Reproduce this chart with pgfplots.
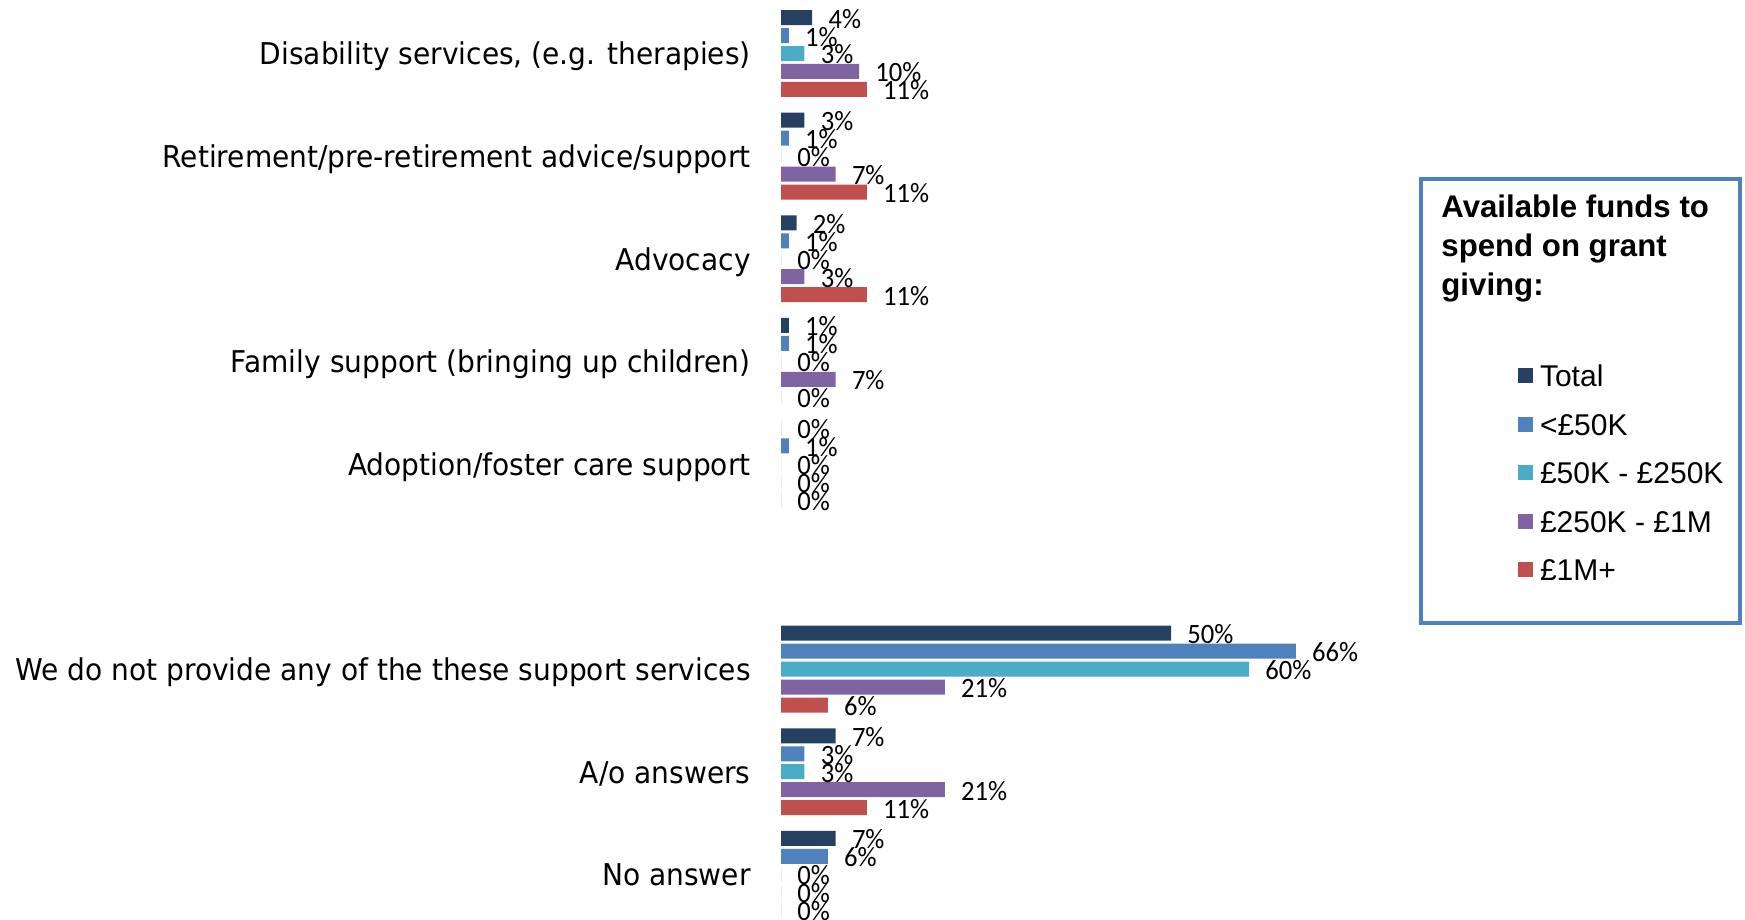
\documentclass[border=0pt]{standalone}
\usepackage{fontspec}
\usepackage{pgfplots}
\pgfplotsset{compat=1.18}
\usepackage{pgfplotstable}
\setmainfont{Liberation Sans}
\newfontfamily\catfont[FakeStretch=0.935]{DejaVu Sans}
\newfontfamily\lblfont[FakeStretch=0.95]{Carlito}

\definecolor{cTotal}{HTML}{264061}
\definecolor{cSmall}{HTML}{4F81BD}
\definecolor{cMid}{HTML}{4BACC6}
\definecolor{cLarge}{HTML}{8064A2}
\definecolor{cTop}{HTML}{C0504D}
\definecolor{boxblue}{HTML}{4F81BD}

% category index (0 = top), percent
\pgfplotstableread{
cat val
0 4
1 3
2 2
3 1
4 0
6 50
7 7
8 7
}\tabTotal
\pgfplotstableread{
cat val
0 1
1 1
2 1
3 1
4 1
6 66
7 3
8 6
}\tabSmall
\pgfplotstableread{
cat val
0 3
1 0
2 0
3 0
4 0
6 60
7 3
8 0
}\tabMid
\pgfplotstableread{
cat val
0 10
1 7
2 3
3 7
4 0
6 21
7 21
8 0
}\tabLarge
\pgfplotstableread{
cat val
0 11
1 11
2 11
3 0
4 0
6 6
7 11
8 0
}\tabTop

\begin{document}
\begin{tikzpicture}
\useasboundingbox (0,0) rectangle (872.5pt,460pt);

\begin{axis}[%
at={(390.5pt,-2.8pt)},
anchor=south west,
width=312pt,
height=461.7pt,
scale only axis,
xbar,
bar width=7.5pt,
bar shift=0pt,
xmin=0, xmax=80,
ymin=-0.5, ymax=8.5,
y dir=reverse,
clip=false,
axis line style={draw=none},
major tick length=0pt,
xtick=\empty,
ytick={0,1,2,3,4,5,6,7,8},
yticklabels={{Disability services, (e.g. therapies)},
  {Retirement/pre-retirement advice/support},
  {Advocacy},
  {Family support (bringing up children)},
  {Adoption/foster care support},
  {},
  {We do not provide any of the these support services},
  {A/o answers},
  {No answer}},
yticklabel style={font=\catfont\fontsize{15pt}{18pt}\selectfont, inner sep=0pt,
  text height=14.4pt, text depth=3pt, xshift=-15pt},
point meta=x,
/pgf/number format/assume math mode=true,
nodes near coords={\pgfmathprintnumber[fixed,precision=0]{\pgfplotspointmeta}\%},
every node near coord/.append style={font=\lblfont\fontsize{14pt}{16pt}\selectfont,
  anchor=west, inner sep=0pt, xshift=8pt, yshift=-0.5pt, text=black},
legend cell align=left,
legend image code/.code={\fill[#1] (0pt,-3.75pt) rectangle (7.5pt,3.75pt);},
legend style={draw=none, fill=none, at={(axis description cs:1.1811,0.6074)},
  anchor=north west, inner sep=0pt, outer sep=0pt, row sep=13.25pt,
  font=\fontsize{15pt}{18pt}\selectfont,
  nodes={inner sep=0pt, text height=11pt, text depth=0pt},
  /tikz/every odd column/.append style={column sep=3.5pt}}
]
\addplot[fill=cTotal, draw=none] table[x=val, y expr=\thisrow{cat}-0.35] {\tabTotal};
\addlegendentry{Total}
\addplot[fill=cSmall, draw=none] table[x=val, y expr=\thisrow{cat}-0.175] {\tabSmall};
\addlegendentry{<£50K}
\addplot[fill=cMid, draw=none] table[x=val, y expr=\thisrow{cat}] {\tabMid};
\addlegendentry{£50K - £250K}
\addplot[fill=cLarge, draw=none] table[x=val, y expr=\thisrow{cat}+0.175] {\tabLarge};
\addlegendentry{£250K - £1M}
\addplot[fill=cTop, draw=none] table[x=val, y expr=\thisrow{cat}+0.35] {\tabTop};
\addlegendentry{£1M+}
\end{axis}

\draw[line width=2pt, boxblue] (710.5pt,370.5pt) rectangle (870pt,148.5pt);
\begin{scope}[every node/.style={anchor=base west, inner sep=0pt,
  font=\bfseries\fontsize{15.6pt}{18pt}\selectfont}]
\node at (720.5pt,351pt) {Available funds to};
\node at (720.5pt,331.5pt) {spend on grant};
\node at (720.5pt,312pt) {giving:};
\end{scope}
\end{tikzpicture}
\end{document}
